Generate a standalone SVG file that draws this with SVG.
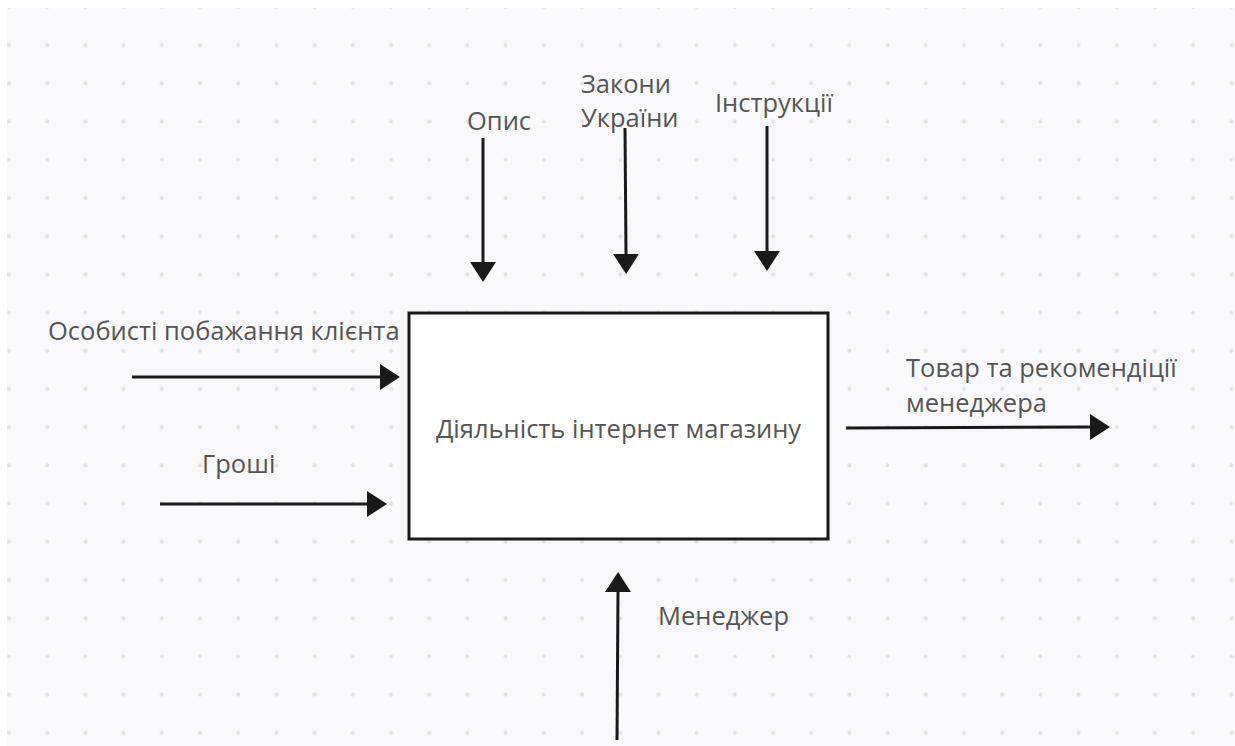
<svg xmlns="http://www.w3.org/2000/svg" width="1235" height="746" viewBox="0 0 1235 746">
  <defs>
    <pattern id="dots" x="-10" y="-12" width="38.2" height="38.2" patternUnits="userSpaceOnUse">
      <circle cx="19" cy="19" r="2" fill="#e2e2e6"/>
    </pattern>
    <marker id="arr" viewBox="0 0 20 26" refX="0" refY="13" markerWidth="20" markerHeight="26" markerUnits="userSpaceOnUse" orient="auto">
      <path d="M0,0 L20,13 L0,26 Z" fill="#1a1a1a"/>
    </marker>
  </defs>
  <style>
    .lbl { font-family: "Open Sans", "Noto Sans", sans-serif; font-size: 25.5px; fill: #555555; }
    .conn { stroke: #1a1a1a; stroke-width: 3; fill: none; marker-end: url(#arr); }
  </style>
  <rect width="1235" height="746" fill="#ffffff"/>
  <rect x="7" y="8" width="1228" height="738" fill="#f9f9fb"/>
  <rect x="7" y="8" width="1228" height="738" fill="url(#dots)"/>

  <g id="connectors">
    <line class="conn" x1="483" y1="138" x2="483" y2="262"/>
    <line class="conn" x1="625" y1="128" x2="626" y2="254"/>
    <line class="conn" x1="767" y1="126" x2="767" y2="251"/>
    <line class="conn" x1="132" y1="377" x2="380" y2="377"/>
    <line class="conn" x1="160" y1="504" x2="367" y2="504"/>
    <line class="conn" x1="846" y1="428" x2="1090" y2="427"/>
    <line class="conn" x1="617" y1="740" x2="618" y2="592"/>
  </g>

  <g id="node-main">
    <rect x="409" y="313" width="419" height="226" fill="#ffffff" stroke="#1a1a1a" stroke-width="3"/>
    <text class="lbl" x="618.5" y="438" text-anchor="middle">Діяльність інтернет магазину</text>
  </g>

  <g id="label-opys"><text class="lbl" x="467" y="130">Опис</text></g>
  <g id="label-zakony"><text class="lbl" x="581" y="93">Закони</text><text class="lbl" x="581" y="127">України</text></g>
  <g id="label-instruktsii"><text class="lbl" x="715" y="112">Інструкції</text></g>
  <g id="label-pobazhannia"><text class="lbl" x="48" y="340">Особисті побажання клієнта</text></g>
  <g id="label-hroshi"><text class="lbl" x="202" y="473">Гроші</text></g>
  <g id="label-tovar"><text class="lbl" x="906" y="377">Товар та рекомендіції</text><text class="lbl" x="906" y="412">менеджера</text></g>
  <g id="label-menedzher"><text class="lbl" x="658" y="625">Менеджер</text></g>
</svg>
